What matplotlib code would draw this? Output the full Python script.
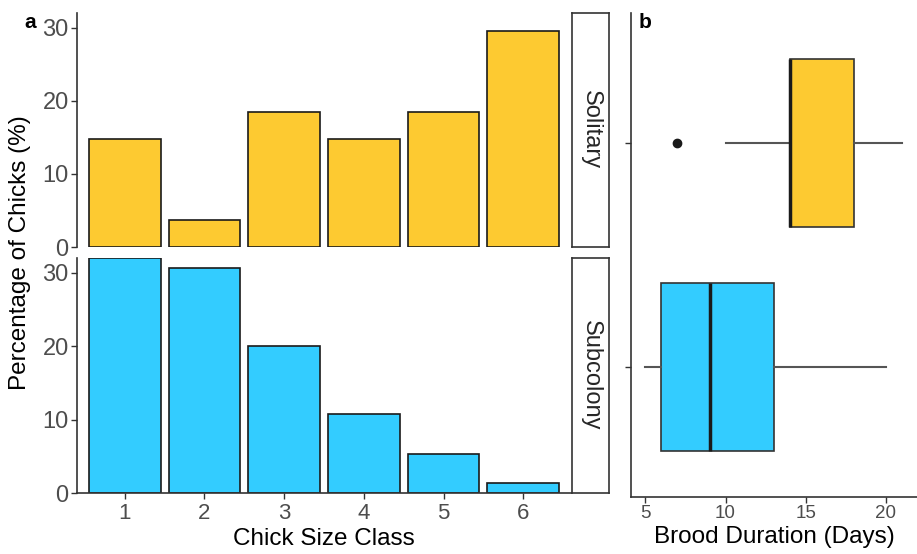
import numpy as np
import matplotlib
matplotlib.use("Agg")
import matplotlib.pyplot as plt

plt.rcParams['font.family'] = ['Liberation Sans', 'DejaVu Sans']

# panel a data: percentage of chicks per size class
size_class = [1, 2, 3, 4, 5, 6]
solitary_pct = [14.8, 3.7, 18.5, 14.8, 18.5, 29.6]
subcolony_pct = [32.0, 30.7, 20.0, 10.7, 5.3, 1.3]

# panel b data: brood duration boxplot stats (days)
groups = ['Subcolony', 'Solitary']
q1 = [6, 14]
med = [9, 14]
q3 = [13, 18]
whislo = [5, 10]
whishi = [20, 21]
fliers = [[], [7]]

yellow = '#FDCA31'
blue = '#33CCFF'
tick_col = '#4D4D4D'
line_col = '#333333'

W, H = 917, 554
fig = plt.figure(figsize=(W / 100, H / 100), dpi=100)


def box(x0, y0, x1, y1):
    # pixel box (top-left origin) -> figure fraction
    return [x0 / W, 1 - y1 / H, (x1 - x0) / W, (y1 - y0) / H]


ax_top = fig.add_axes(box(77, 13, 571, 247))
ax_bot = fig.add_axes(box(77, 258, 571, 493))
strip_top = fig.add_axes(box(572, 13, 609, 247))
strip_bot = fig.add_axes(box(572, 258, 609, 493))
ax_b = fig.add_axes(box(631, 13, 917, 497))

for ax, vals, col in [(ax_top, solitary_pct, yellow), (ax_bot, subcolony_pct, blue)]:
    ax.bar(size_class, vals, width=0.9, color=col, edgecolor='#1a1a1a', linewidth=1.2)
    ax.set_xlim(0.4, 6.6)
    ax.set_ylim(0, 32)
    ax.set_yticks([0, 10, 20, 30])
    for s in ['top', 'right']:
        ax.spines[s].set_visible(False)
    ax.spines['left'].set_linewidth(1.2)
    ax.spines['left'].set_color(line_col)
    ax.spines['bottom'].set_linewidth(1.2)
    ax.spines['bottom'].set_color(line_col)
    ax.tick_params(axis='y', labelsize=17, colors=line_col, labelcolor=tick_col,
                   length=4, width=1, pad=2)
    ax.tick_params(axis='x', labelsize=16, colors=line_col, labelcolor=tick_col,
                   length=4, width=1, pad=3)

ax_top.spines['bottom'].set_visible(False)
ax_top.set_xticks([])
ax_bot.set_xticks(size_class)
ax_bot.set_xlabel('Chick Size Class', fontsize=17.5, labelpad=3)
fig.text(20 / W, 1 - 253 / H, 'Percentage of Chicks (%)', rotation=90,
         fontsize=17.5, ha='center', va='center')

for sax, label in [(strip_top, 'Solitary'), (strip_bot, 'Subcolony')]:
    sax.set_xticks([])
    sax.set_yticks([])
    for s in sax.spines.values():
        s.set_color(line_col)
        s.set_linewidth(1.2)
    sax.text(0.5, 0.5, label, rotation=-90, ha='center', va='center',
             fontsize=17, color='#262626', transform=sax.transAxes)

# panel b boxplot
stats = []
for i in range(len(groups)):
    stats.append(dict(label=groups[i], q1=q1[i], med=med[i], q3=q3[i],
                      whislo=whislo[i], whishi=whishi[i], fliers=fliers[i]))
bp = ax_b.bxp(stats, positions=[1, 2], widths=0.75, vert=False,
              patch_artist=True, showcaps=False,
              whiskerprops=dict(color='#555555', linewidth=1.5),
              medianprops=dict(color='#1a1a1a', linewidth=2.5),
              boxprops=dict(edgecolor='#333333', linewidth=1.2),
              flierprops=dict(marker='o', markerfacecolor='#1a1a1a',
                              markeredgecolor='#1a1a1a', markersize=6))
for patch, col in zip(bp['boxes'], [blue, yellow]):
    patch.set_facecolor(col)

ax_b.set_ylim(0.42, 2.58)
ax_b.set_xlim(4.1, 21.95)
ax_b.set_yticks([1, 2])
ax_b.set_yticklabels([])
ax_b.set_xticks([5, 10, 15, 20])
for s in ['top', 'right']:
    ax_b.spines[s].set_visible(False)
for s in ['left', 'bottom']:
    ax_b.spines[s].set_linewidth(1.2)
    ax_b.spines[s].set_color(line_col)
ax_b.tick_params(axis='both', labelsize=13.5, colors=line_col, labelcolor=tick_col,
                 length=4, width=1, pad=2)
ax_b.set_xlabel('Brood Duration (Days)', fontsize=17.5, labelpad=3)

fig.text(30 / W, 1 - 22 / H, 'a', fontsize=15, fontweight='bold', ha='center', va='center')
fig.text(645 / W, 1 - 22 / H, 'b', fontsize=15, fontweight='bold', ha='center', va='center')

fig.savefig('out.png', dpi=100)
